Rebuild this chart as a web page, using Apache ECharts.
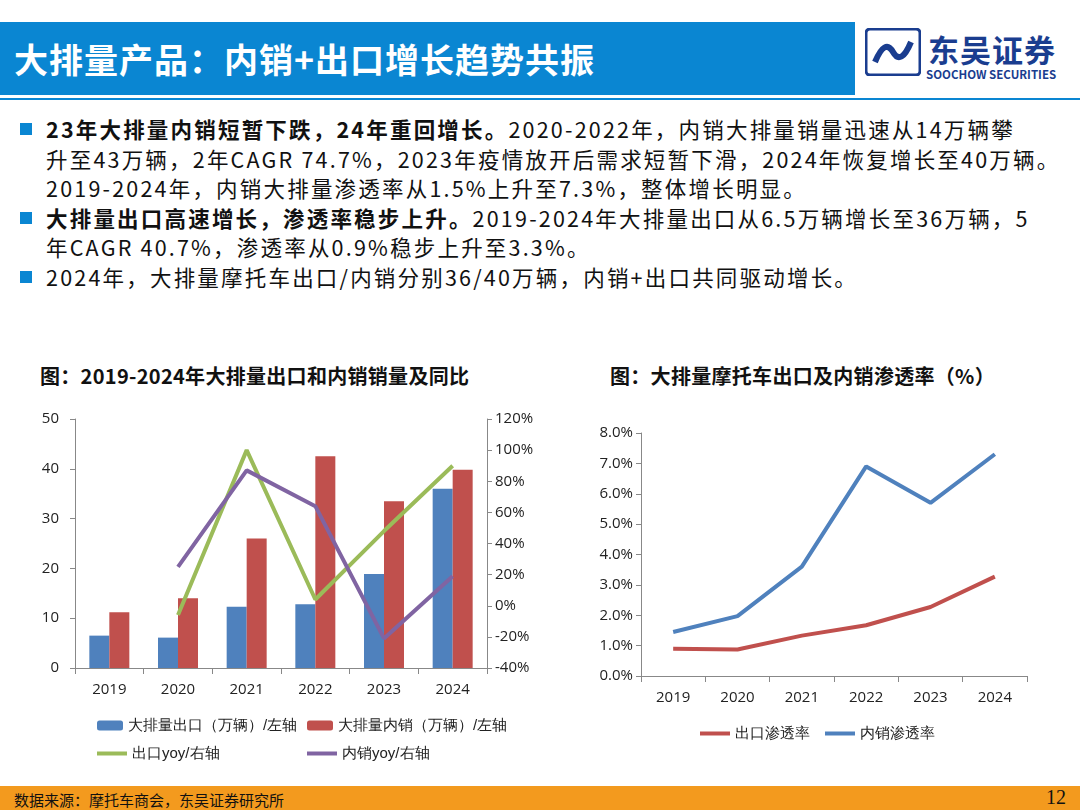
<!DOCTYPE html>
<html><head><meta charset="utf-8">
<script src="https://cdn.jsdelivr.net/npm/echarts@6/dist/echarts.min.js"></script>
<style>
body{margin:0;width:1080px;height:810px;position:relative;font-family:"Noto Sans CJK SC","Noto Sans",sans-serif;background:#fff;overflow:hidden}
#c{position:absolute;left:0;top:0;width:1080px;height:810px}
.hdr{position:absolute;left:0;top:22px;width:855px;height:73px;background:#0a86d2;color:#fff;font-size:34px;font-weight:bold;line-height:73px;padding-left:14px;box-sizing:border-box;letter-spacing:1px}
.line{position:absolute;left:0;top:98px;width:1080px;height:2px;background:#0a86d2}
.logo{position:absolute;left:865px;top:28px;}
.bul{position:absolute;left:18px;top:114px;width:1062px;font-size:21.5px;line-height:29.5px;color:#111;white-space:nowrap;letter-spacing:2.2px}
.bul p{margin:0;padding-left:28px;position:relative}
.bul p:before{content:"";position:absolute;left:2px;top:9px;width:12px;height:12px;background:#0a86d2}
.t{position:absolute;font-size:20px;font-weight:bold;color:#111;letter-spacing:0.3px}
.foot{position:absolute;left:0;top:786px;width:1080px;height:24px;background:#f39a1e}
.src{position:absolute;left:14px;top:789px;font-size:15px;color:#111}
.pg{position:absolute;right:14px;top:786px;font-size:20px;font-family:"Liberation Serif",serif;color:#111}
</style></head><body>
<div class="hdr">大排量产品：内销+出口增长趋势共振</div>
<div class="line"></div>
<div class="logo"><svg width="56" height="48" viewBox="0 0 56 48"><rect x="1" y="1" width="54" height="46" rx="4" fill="none" stroke="#1a3d8f" stroke-width="3"/><path d="M10 34 Q20 10 28 24 Q36 38 46 14" fill="none" stroke="#1a3d8f" stroke-width="6"/></svg></div>
<div style="position:absolute;left:928px;top:26px;font-size:31px;font-weight:bold;color:#1a3d8f;letter-spacing:1px">东吴证券</div>
<div style="position:absolute;left:926px;top:66px;font-size:11.5px;font-weight:bold;color:#1a3d8f">SOOCHOW SECURITIES</div>
<div class="bul">
<p><b>23年大排量内销短暂下跌，24年重回增长。</b>2020-2022年，内销大排量销量迅速从14万辆攀<br>升至43万辆，2年CAGR 74.7%，2023年疫情放开后需求短暂下滑，2024年恢复增长至40万辆。<br>2019-2024年，内销大排量渗透率从1.5%上升至7.3%，整体增长明显。</p>
<p><b>大排量出口高速增长，渗透率稳步上升。</b>2019-2024年大排量出口从6.5万辆增长至36万辆，5<br>年CAGR 40.7%，渗透率从0.9%稳步上升至3.3%。</p>
<p>2024年，大排量摩托车出口/内销分别36/40万辆，内销+出口共同驱动增长。</p>
</div>
<div class="t" style="left:40px;top:361px">图：2019-2024年大排量出口和内销销量及同比</div>
<div class="t" style="left:610px;top:361px">图：大排量摩托车出口及内销渗透率（%）</div>
<div id="c"></div>
<div class="foot"></div>
<div class="src">数据来源：摩托车商会，东吴证券研究所</div>
<div class="pg">12</div>
<script>
const years=['2019','2020','2021','2022','2023','2024'];
const exportVol=[6.5,6.1,12.3,12.8,18.9,36.0];
const domesticVol=[11.2,14.0,26.0,42.5,33.5,39.8];
const exportYoy=[null,-6,100,4,48,90];
const domesticYoy=[null,25,87,64,-21,19];
const exportPen=[0.90,0.87,1.33,1.67,2.27,3.27];
const domesticPen=[1.45,1.97,3.60,6.90,5.70,7.30];
const ch=echarts.init(document.getElementById('c'));
const ax={axisLine:{show:true,lineStyle:{color:'#888'}},axisTick:{show:true,lineStyle:{color:'#888'}},splitLine:{show:false},axisLabel:{color:'#222',fontSize:15,fontFamily:'Open Sans'}};
const xa=(g)=>Object.assign({},ax,{type:'category',gridIndex:g,data:years,axisTick:{show:true,length:6,lineStyle:{color:'#888'}},axisLabel:{color:'#222',fontSize:15,margin:14,fontFamily:'Open Sans'}});
const lineIcon='path://M0,0H30V4H0Z';
const leg=(l,t,d,ic)=>({left:l,top:t,data:d,icon:ic,itemWidth:ic?30:26,itemHeight:ic?4:10,itemGap:30,textStyle:{fontSize:15,color:'#222'},selectedMode:false});
ch.setOption({
 animation:false,
 grid:[{left:75,top:419,width:412,height:249},{left:641,top:433,width:386,height:243}],
 legend:[leg(92,713,['大排量出口（万辆）/左轴']),leg(302,713,['大排量内销（万辆）/左轴']),
  leg(92,741,['出口yoy/右轴'],lineIcon),leg(302,741,['内销yoy/右轴'],lineIcon),
  leg(695,721,['出口渗透率'],lineIcon),leg(820,721,['内销渗透率'],lineIcon)],
 xAxis:[xa(0),xa(1)],
 yAxis:[Object.assign({},ax,{type:'value',gridIndex:0,min:0,max:50,interval:10,axisLabel:{color:'#222',fontSize:15,margin:16,fontFamily:'Open Sans'}}),
  Object.assign({},ax,{type:'value',gridIndex:0,position:'right',min:-40,max:120,interval:20,axisLabel:{color:'#222',fontSize:15,fontFamily:'Open Sans',formatter:'{value}%'}}),
  Object.assign({},ax,{type:'value',gridIndex:1,min:0,max:8,interval:1,axisLabel:{color:'#222',fontSize:15,fontFamily:'Open Sans',formatter:v=>v.toFixed(1)+'%'}})],
 series:[
  {name:'大排量出口（万辆）/左轴',type:'bar',xAxisIndex:0,yAxisIndex:0,data:exportVol,barWidth:20,barGap:'0%',itemStyle:{color:'#4f81bd'}},
  {name:'大排量内销（万辆）/左轴',type:'bar',xAxisIndex:0,yAxisIndex:0,data:domesticVol,barWidth:20,itemStyle:{color:'#c0504d'}},
  {name:'出口yoy/右轴',type:'line',xAxisIndex:0,yAxisIndex:1,data:exportYoy,symbol:'none',lineStyle:{color:'#9bbb59',width:4},itemStyle:{color:'#9bbb59'}},
  {name:'内销yoy/右轴',type:'line',xAxisIndex:0,yAxisIndex:1,data:domesticYoy,symbol:'none',lineStyle:{color:'#8064a2',width:4},itemStyle:{color:'#8064a2'}},
  {name:'出口渗透率',type:'line',xAxisIndex:1,yAxisIndex:2,data:exportPen,symbol:'none',lineStyle:{color:'#c0504d',width:4},itemStyle:{color:'#c0504d'}},
  {name:'内销渗透率',type:'line',xAxisIndex:1,yAxisIndex:2,data:domesticPen,symbol:'none',lineStyle:{color:'#4f81bd',width:4},itemStyle:{color:'#4f81bd'}}
 ]
});
</script></body></html>
